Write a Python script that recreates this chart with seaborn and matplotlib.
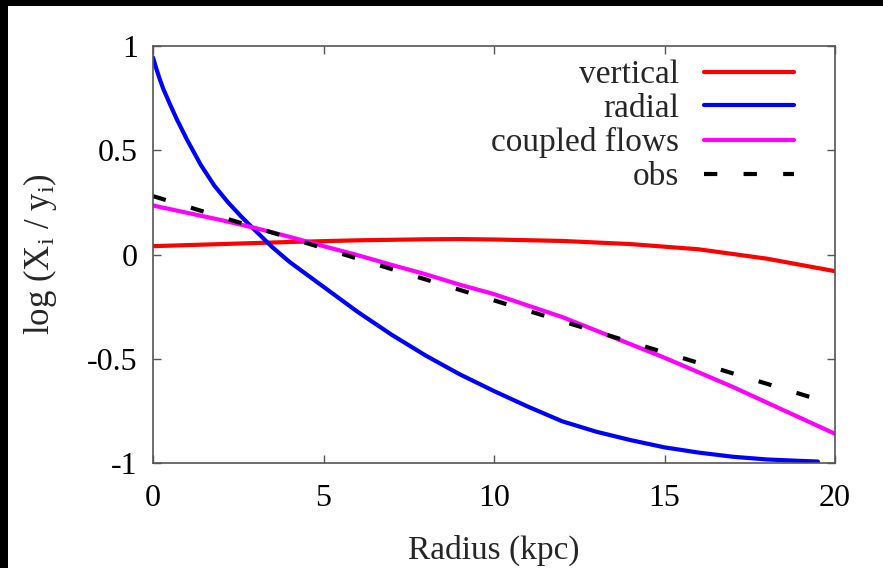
import matplotlib
matplotlib.use("Agg")
import matplotlib.pyplot as plt
import seaborn as sns
from matplotlib.patches import Rectangle

# ---- data ----
x_vertical = [0, 2, 4, 6, 8, 9, 10, 12, 14, 16, 18, 20]
y_vertical = [0.040, 0.050, 0.060, 0.068, 0.073, 0.074, 0.072, 0.065, 0.050, 0.025, -0.020, -0.080]

x_radial = [0, 0.1, 0.2, 0.3, 0.5, 0.7, 1.0, 1.4, 1.8, 2.2, 2.6, 3.0, 3.5, 4.0, 4.5, 5.0,
            6.0, 7.0, 8.0, 9.0, 10.0, 11.0, 12.0, 13.0, 14.0, 15.0, 16.0, 17.0, 18.0, 19.0, 19.5]
y_radial = [0.945, 0.89, 0.84, 0.795, 0.72, 0.648, 0.55, 0.43, 0.33, 0.25, 0.18, 0.115, 0.035,
            -0.035, -0.095, -0.155, -0.275, -0.385, -0.485, -0.575, -0.655, -0.73, -0.80,
            -0.85, -0.89, -0.925, -0.95, -0.97, -0.983, -0.99, -0.993]

x_coupled = [0, 1, 2, 3, 4, 5, 6, 7, 8, 9, 10, 11, 12, 13, 14, 15, 16, 17, 18, 19, 20]
y_coupled = [0.235, 0.20, 0.165, 0.127, 0.085, 0.040, -0.003, -0.05, -0.095, -0.145, -0.19,
             -0.245, -0.30, -0.365, -0.43, -0.495, -0.565, -0.635, -0.71, -0.785, -0.86]

x_obs = [0, 2, 4, 6, 8, 10, 12, 14, 16, 18, 19.5]
y_obs = [0.28, 0.18, 0.08, -0.02, -0.12, -0.22, -0.32, -0.42, -0.52, -0.62, -0.695]

series_labels = ["vertical", "radial", "coupled flows", "obs"]
x_ticks = [0, 5, 10, 15, 20]
y_ticks = [-1, -0.5, 0, 0.5, 1]
y_tick_labels = ["-1", "-0.5", "0", "0.5", "1"]

# ---- style ----
sns.set_theme(style="ticks")
plt.rcParams["font.family"] = ["Liberation Serif", "DejaVu Serif"]
plt.rcParams["mathtext.fontset"] = "custom"
plt.rcParams["mathtext.rm"] = "Liberation Serif"
plt.rcParams["mathtext.it"] = "Liberation Serif"
plt.rcParams["figure.facecolor"] = "white"
plt.rcParams["savefig.facecolor"] = "white"

fig = plt.figure(figsize=(8.83, 5.68), dpi=100, facecolor="white")
ax = fig.add_axes([153 / 883, 1 - 463 / 568, (835 - 153) / 883, (463 - 46) / 568])

lw = 3.0
dash = (3.2, 6.3)
sns.lineplot(x=x_vertical, y=y_vertical, ax=ax, color="#ff0000", linewidth=lw,
             label=series_labels[0])
sns.lineplot(x=x_radial, y=y_radial, ax=ax, color="#0000ff", linewidth=lw,
             label=series_labels[1])
sns.lineplot(x=x_coupled, y=y_coupled, ax=ax, color="#ff00ff", linewidth=lw,
             label=series_labels[2])
sns.lineplot(x=x_obs, y=y_obs, ax=ax, color="black", linewidth=lw,
             label=series_labels[3])
ax.get_lines()[-1].set_dashes(dash)

ax.set_xlim(0, 20)
ax.set_ylim(-1, 1)
ax.set_xticks(x_ticks)
ax.set_xticklabels([str(t) for t in x_ticks])
ax.set_yticks(y_ticks)
ax.set_yticklabels(y_tick_labels)

frame_col = "#555555"
for s in ax.spines.values():
    s.set_visible(True)
    s.set_color(frame_col)
    s.set_linewidth(1.2)

ax.tick_params(axis="both", which="major", direction="in", length=6, width=1,
               color=frame_col, labelsize=23, top=True, right=True,
               labelcolor="black")
ax.tick_params(axis="x", pad=15)
ax.tick_params(axis="y", pad=11)

ax.set_xlabel("Radius (kpc)", fontsize=24, labelpad=16)
ax.set_ylabel(r"log (X$_{\mathregular{i}}$ / y$_{\mathregular{i}}$)", fontsize=25, labelpad=20)

leg = ax.legend(loc="upper right", bbox_to_anchor=(0.94, 0.967), frameon=False,
                markerfirst=False, fontsize=24, handlelength=2.7, handletextpad=0.75,
                labelspacing=0.1, borderaxespad=0.0, borderpad=0.0)
for h in leg.get_lines():
    h.set_linewidth(lw)
leg.get_lines()[-1].set_dashes(dash)

# black border of the original slide crop (top and left)
fig.add_artist(Rectangle((0, 1 - 6 / 568), 1, 6 / 568, transform=fig.transFigure,
                         facecolor="black", edgecolor="none", zorder=10))
fig.add_artist(Rectangle((0, 0), 8 / 883, 1, transform=fig.transFigure,
                         facecolor="black", edgecolor="none", zorder=10))

fig.savefig("out.png", dpi=100, facecolor="white")
